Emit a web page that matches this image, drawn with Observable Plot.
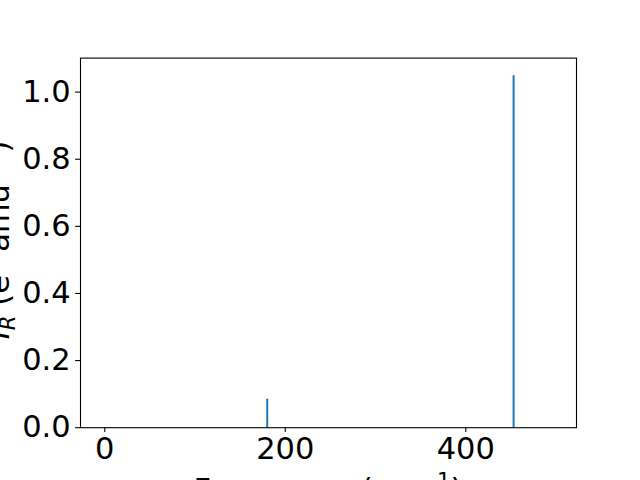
<!DOCTYPE html>
<html>
<head>
<meta charset="utf-8">
<script src="https://cdn.jsdelivr.net/npm/d3@7"></script>
<script src="https://cdn.jsdelivr.net/npm/@observablehq/plot@0.6"></script>
<style>
  html, body { margin: 0; padding: 0; overflow: hidden; background: white; }
  #chart svg { overflow: visible; }
</style>
</head>
<body>
<div id="chart"></div>
<script>
const frequencies = [180, 453];
const intensities = [0.085, 1.049];
const xTicks = [0, 200, 400];
const yTicks = [0.0, 0.2, 0.4, 0.6, 0.8, 1.0];

const data = frequencies.map((f, i) => ({freq: f, inten: intensities[i]}));

const FONT = 30.5;
const plot = Plot.plot({
  width: 640,
  height: 480,
  marginLeft: 80,
  marginRight: 64,
  marginTop: 57.6,
  marginBottom: 52.8,
  style: {fontFamily: "DejaVu Sans", fontSize: FONT + "px", color: "black", background: "white"},
  x: {domain: [-26.9, 522.7]},
  y: {domain: [0, 1.1013]},
  marks: [
    Plot.ruleX(data, {x: "freq", y1: 0, y2: "inten", stroke: "#1f77b4", strokeWidth: 2}),
    Plot.frame({stroke: "black", strokeWidth: 1.1}),
    Plot.axisX({ticks: xTicks, tickFormat: d3.format("d"), tickSize: 4.9, tickPadding: 4.9, fontSize: FONT, label: null, strokeWidth: 1.1}),
    Plot.axisY({ticks: yTicks, tickFormat: d3.format(".1f"), tickSize: 4.9, tickPadding: 4.9, fontSize: FONT, label: null, strokeWidth: 1.1})
  ]
});
document.getElementById("chart").appendChild(plot);

const svg = d3.select(plot);
// Y label
const yl = svg.append("text")
  .attr("transform", "translate(8.5,240) rotate(-90)")
  .attr("text-anchor", "middle")
  .attr("font-family", "DejaVu Sans")
  .attr("font-size", FONT)
  .attr("fill", "black");
yl.append("tspan").attr("font-style", "italic").text("I");
yl.append("tspan").attr("font-style", "italic").attr("font-size", FONT * 0.7).attr("dy", 6).text("R");
yl.append("tspan").attr("dy", -6).text(" (e");
yl.append("tspan").attr("font-size", FONT * 0.7).attr("dy", -12).text("2");
yl.append("tspan").attr("dy", 12).text(" amu");
yl.append("tspan").attr("font-size", FONT * 0.7).attr("dy", -12).text("−1");
yl.append("tspan").attr("dy", 12).text(")");

// X label
const xl = svg.append("text")
  .attr("x", 328).attr("y", 500)
  .attr("text-anchor", "middle")
  .attr("font-family", "DejaVu Sans")
  .attr("font-size", FONT)
  .attr("fill", "black");
xl.append("tspan").text("Frequency (cm");
xl.append("tspan").attr("font-size", FONT * 0.7).attr("dy", -12).text("−1");
xl.append("tspan").attr("dy", 12).text(")");
</script>
</body>
</html>
